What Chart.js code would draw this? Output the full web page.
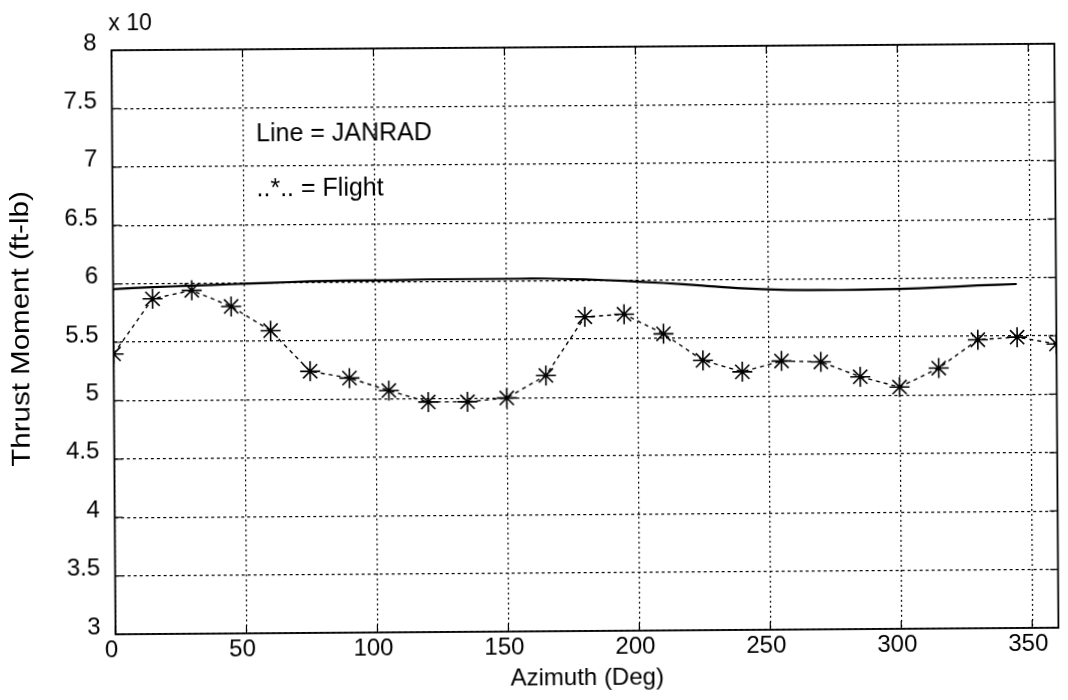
<!DOCTYPE html>
<html>
<head>
<meta charset="utf-8">
<title>Thrust Moment vs Azimuth</title>
<script src="https://cdn.jsdelivr.net/npm/chart.js@4/dist/chart.umd.min.js"></script>
<style>
  html, body { margin: 0; padding: 0; background: #fff; }
  #wrap { width: 1068px; height: 700px; overflow: hidden; position: relative; background: #fff; }
  /* the printed page sits slightly askew */
  #c { display: block; transform: rotate(-0.4deg); transform-origin: 588px 339px; }
</style>
</head>
<body>
<div id="wrap"><canvas id="c" width="1068" height="700"></canvas></div>
<script>
// Flight test: thrust moment sampled every 15 deg of azimuth (x 10^4 ft-lb)
const flightAzimuth = [0, 15, 30, 45, 60, 75, 90, 105, 120, 135, 150, 165, 180,
                       195, 210, 225, 240, 255, 270, 285, 300, 315, 330, 345, 360];
const flightMoment  = [5.40, 5.87, 5.94, 5.80, 5.59, 5.24, 5.18, 5.07, 4.97, 4.97, 5.00, 5.19, 5.69,
                       5.71, 5.54, 5.31, 5.21, 5.30, 5.29, 5.16, 5.07, 5.23, 5.47, 5.49, 5.43];

// JANRAD prediction
const janradAzimuth = [0, 15, 30, 45, 60, 75, 90, 105, 120, 135, 150, 165,
                       180, 195, 210, 225, 240, 255, 270, 285, 300, 315, 330, 345];
const janradMoment  = [5.955, 5.97, 5.98, 5.99, 6.00, 6.01, 6.015, 6.015, 6.02, 6.02, 6.02, 6.02,
                       6.01, 5.995, 5.975, 5.95, 5.925, 5.91, 5.905, 5.905, 5.91, 5.92, 5.935, 5.945];

const xTickValues = [0, 50, 100, 150, 200, 250, 300, 350];
const yTickValues = [3, 3.5, 4, 4.5, 5, 5.5, 6, 6.5, 7, 7.5, 8];

const xTitle = 'Azimuth (Deg)';
const yTitle = 'Thrust Moment (ft-lb)';
const exponentNote = 'x 10';
const noteLines = ['Line = JANRAD', '..*.. = Flight'];

const FONT = "'Liberation Sans', Arial, Helvetica, sans-serif";

// Box, inward tick marks, y label and text notes in the style of a MATLAB plot
const framePlugin = {
  id: 'frame',
  afterDatasetsDraw(chart) {
    const { ctx, chartArea: a, scales: { x, y } } = chart;
    ctx.save();
    ctx.setLineDash([]);
    ctx.strokeStyle = '#000';
    ctx.lineWidth = 1.2;
    const tl = 8;
    ctx.beginPath();
    xTickValues.forEach(v => {
      const px = x.getPixelForValue(v);
      ctx.moveTo(px, a.bottom); ctx.lineTo(px, a.bottom - tl);
      ctx.moveTo(px, a.top);    ctx.lineTo(px, a.top + tl);
    });
    yTickValues.forEach(v => {
      const py = y.getPixelForValue(v);
      ctx.moveTo(a.left, py);  ctx.lineTo(a.left + tl, py);
      ctx.moveTo(a.right, py); ctx.lineTo(a.right - tl, py);
    });
    ctx.stroke();
    ctx.lineWidth = 1.8;
    ctx.strokeRect(a.left, a.top, a.right - a.left, a.bottom - a.top);

    ctx.fillStyle = '#000';
    ctx.textBaseline = 'middle';
    ctx.textAlign = 'left';
    ctx.font = '23px ' + FONT;
    ctx.fillText(exponentNote, a.left - 3, a.top - 26);
    ctx.font = '25px ' + FONT;
    ctx.fillText(noteLines[0], x.getPixelForValue(55), y.getPixelForValue(7.27));
    ctx.fillText(noteLines[1], x.getPixelForValue(55), y.getPixelForValue(6.80));

    // rotated y label, printed slightly elongated along its baseline
    ctx.save();
    ctx.translate(22, y.getPixelForValue(5.62));
    ctx.rotate(-Math.PI / 2);
    ctx.scale(1.18, 1);
    ctx.textAlign = 'center';
    ctx.font = '25px ' + FONT;
    ctx.fillText(yTitle, 0, 0);
    ctx.restore();

    ctx.restore();
  }
};

new Chart(document.getElementById('c'), {
  type: 'line',
  data: {
    datasets: [
      {
        label: 'JANRAD',
        data: janradAzimuth.map((a, i) => ({ x: a, y: janradMoment[i] })),
        borderColor: '#000',
        borderWidth: 2.2,
        pointRadius: 0,
        tension: 0.3,
        fill: false
      },
      {
        label: 'Flight',
        data: flightAzimuth.map((a, i) => ({ x: a, y: flightMoment[i] })),
        borderColor: '#000',
        borderWidth: 1.4,
        borderDash: [4, 4],
        pointStyle: 'star',
        pointRadius: 10,
        pointBorderWidth: 1.6,
        pointBorderColor: '#000',
        pointBackgroundColor: '#000',
        tension: 0,
        fill: false
      }
    ]
  },
  options: {
    responsive: false,
    animation: false,
    layout: { padding: { top: 47, right: 6, bottom: 0, left: 0 } },
    plugins: { legend: { display: false }, tooltip: { enabled: false } },
    scales: {
      x: {
        type: 'linear',
        min: 0,
        max: 360,
        afterBuildTicks: s => { s.ticks = xTickValues.map(v => ({ value: v })); },
        afterFit: s => { s.height = 69; },
        ticks: { color: '#000', font: { family: FONT, size: 24 }, padding: 2, labelOffset: -4, maxRotation: 0,
                 callback: v => String(v) },
        grid: { color: '#000', lineWidth: 1.2, drawTicks: false },
        border: { display: false, dash: [2, 3] },
        title: { display: true, text: xTitle, color: '#000', font: { family: FONT, size: 24 }, padding: { top: 0, bottom: 7 } }
      },
      y: {
        type: 'linear',
        min: 3,
        max: 8,
        afterBuildTicks: s => { s.ticks = yTickValues.map(v => ({ value: v })); },
        afterFit: s => { s.width = 113.5; },
        ticks: { color: '#000', font: { family: FONT, size: 24 }, padding: 15, labelOffset: -7,
                 callback: v => String(v) },
        grid: { color: '#000', lineWidth: 1.2, drawTicks: false },
        border: { display: false, dash: [3, 3] }
      }
    }
  },
  plugins: [framePlugin]
});
</script>
</body>
</html>
